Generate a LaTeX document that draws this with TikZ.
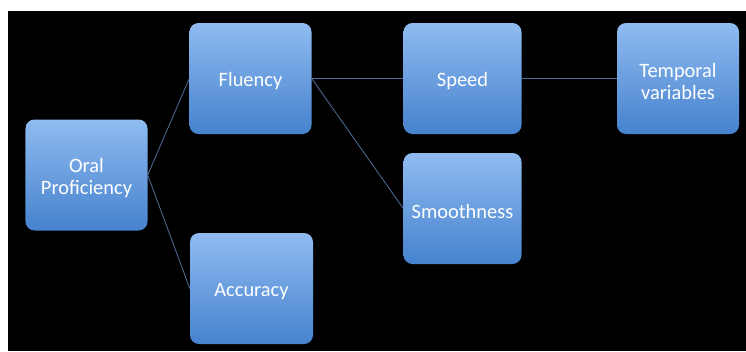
\documentclass[tikz,border=0pt]{standalone}
\usepackage{fontspec}
\setmainfont{Carlito}
\definecolor{boxtop}{HTML}{8FBBF0}
\definecolor{boxbot}{HTML}{4682CE}
\definecolor{linkc}{HTML}{4F7099}
\begin{document}
\begin{tikzpicture}[x=1bp,y=-1bp,
  box/.style={rounded corners=9bp, top color=boxtop, bottom color=boxbot,
    draw=none, inner sep=0pt, minimum height=111bp},
  lbl/.style={text=white, align=center, font=\fontsize{20.5}{22.5}\selectfont,
    inner sep=0pt},
  link/.style={draw=linkc, line width=0.8bp}]
\useasboundingbox (0,0) rectangle (746,351);
\fill[white] (0,0) rectangle (746,351);
\fill[black] (8,11) rectangle (746,351);
% boxes
\node[box, minimum width=122bp] (oral) at (86.5,175) {};
\node[box, minimum width=122bp] (flu) at (250.5,78.5) {};
\node[box, minimum width=123bp] (acc) at (251.5,288.5) {};
\node[box, minimum width=118bp] (spd) at (462.5,78.5) {};
\node[box, minimum width=118bp] (smo) at (462.5,208.5) {};
\node[box, minimum width=122bp] (tmp) at (678,78.5) {};
% labels, set a little below each box centre
\node[lbl] (oral-t) at ([yshift=-3bp]oral.center) {Oral\\Proficiency};
\node[lbl] (flu-t) at ([yshift=-3bp]flu.center) {Fluency};
\node[lbl] (acc-t) at ([yshift=-3bp]acc.center) {Accuracy};
\node[lbl] (spd-t) at ([yshift=-3bp]spd.center) {Speed};
\node[lbl] (smo-t) at ([yshift=-3bp]smo.center) {Smoothness};
\node[lbl] (tmp-t) at ([yshift=-3bp]tmp.center) {Temporal\\variables};
% connectors
\draw[link] (oral.east) -- (flu.west);
\draw[link] (oral.east) -- (acc.west);
\draw[link] (flu.east) -- (spd.west);
\draw[link] (flu.east) -- (smo.west);
\draw[link] (spd.east) -- (tmp.west);
\end{tikzpicture}
\end{document}
